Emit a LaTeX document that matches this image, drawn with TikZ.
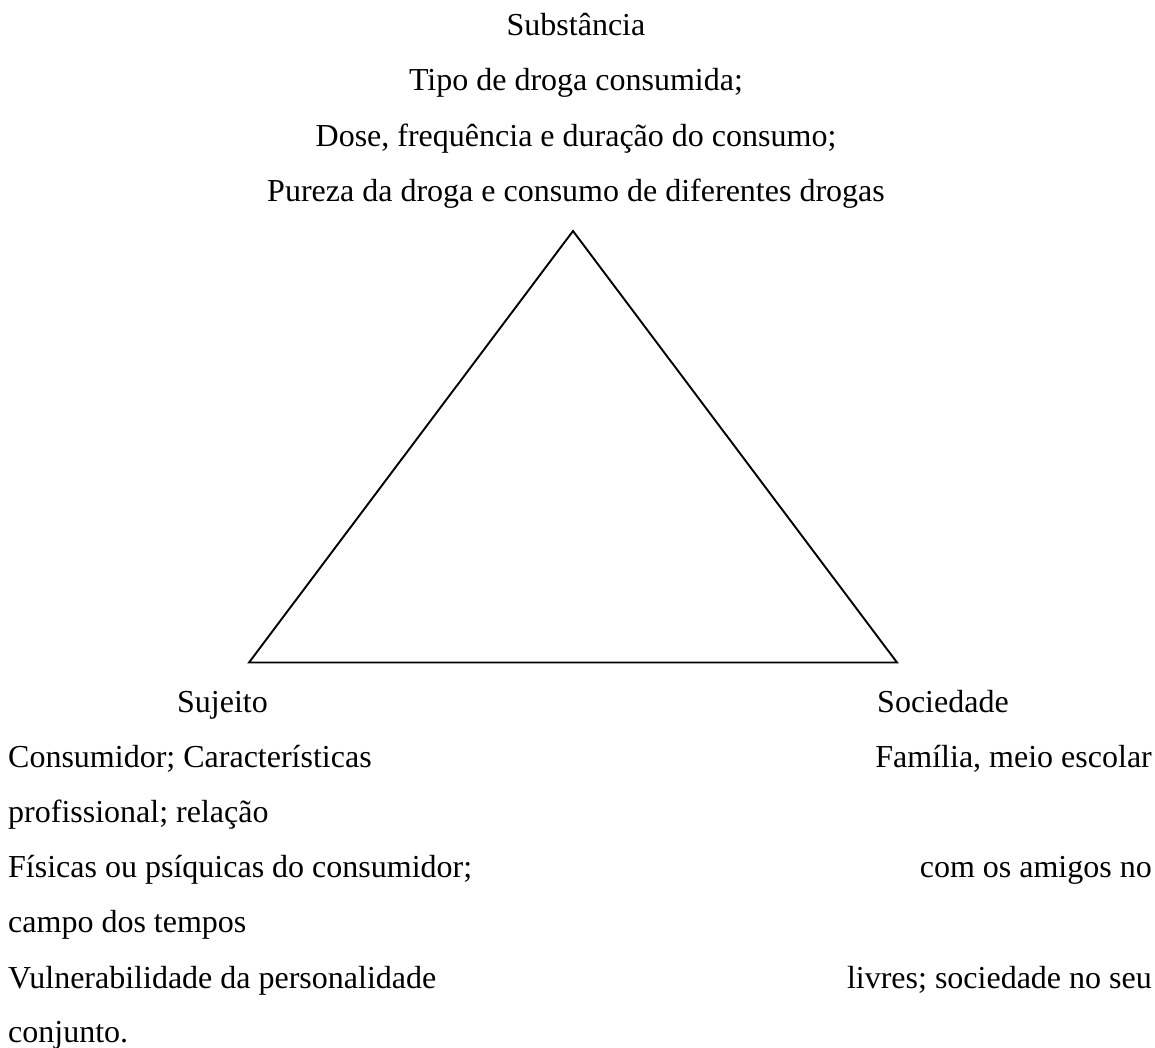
\documentclass[tikz,border=0pt]{standalone}
\usepackage{fontspec}
\setmainfont{Liberation Serif}
\begin{document}
\begin{tikzpicture}[x=1pt,y=-1pt,
  txt/.style={inner sep=0pt,font=\fontsize{32}{38}\selectfont},
  tri/.style={line width=1.9pt,line join=miter}]
\useasboundingbox (0,0) rectangle (1155,1048);
% top labels
\node[txt,anchor=base] (s0) at (576,36) {Substância};
\node[txt,anchor=base] (s1) at (576,91) {Tipo de droga consumida;};
\node[txt,anchor=base] (s2) at (576,147) {Dose, frequência e duração do consumo;};
\node[txt,anchor=base] (s3) at (576,202) {Pureza da droga e consumo de diferentes drogas};
% triangle
\coordinate (A) at (573,231);
\coordinate (B) at (249,662.5);
\coordinate (C) at (897,662.5);
\draw[tri] (A) -- (B) -- (C) -- cycle;
% bottom labels
\node[txt,anchor=base west] (sj) at (177,712) {Sujeito};
\node[txt,anchor=base west] (so) at (877,712) {Sociedade};
\node[txt,anchor=base west] (l1) at (8,767) {Consumidor; Características};
\node[txt,anchor=base west] (l2) at (8,822) {profissional; relação};
\node[txt,anchor=base west] (l3) at (8,877) {Físicas ou psíquicas do consumidor;};
\node[txt,anchor=base west] (l4) at (8,932) {campo dos tempos};
\node[txt,anchor=base west] (l5) at (8,988) {Vulnerabilidade da personalidade};
\node[txt,anchor=base west] (l6) at (8,1042) {conjunto.};
\node[txt,anchor=base east] (r1) at (1152,767) {Família, meio escolar};
\node[txt,anchor=base east] (r2) at (1152,877) {com os amigos no};
\node[txt,anchor=base east] (r3) at (1152,988) {livres; sociedade no seu};
\end{tikzpicture}
\end{document}
